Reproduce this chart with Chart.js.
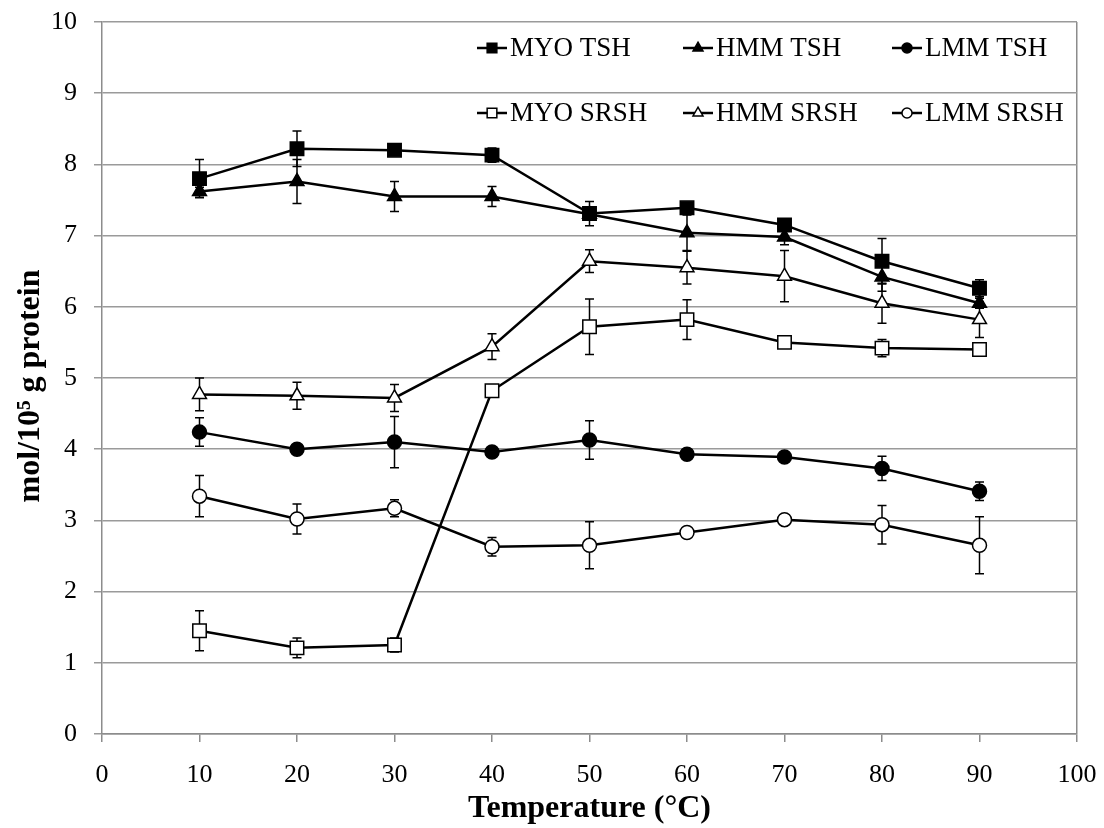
<!DOCTYPE html>
<html><head><meta charset="utf-8">
<script src="https://cdn.jsdelivr.net/npm/chart.js@4.4.1/dist/chart.umd.min.js"></script>
<style>html,body{margin:0;padding:0;background:#fff}#wrap{width:1104px;height:828px;position:relative}</style>
</head><body><div id="wrap"><canvas id="c"></canvas></div>
<script>
// ---- data ----
const temperatures = [10, 20, 30, 40, 50, 60, 70, 80, 90];
const xTickValues = [0, 10, 20, 30, 40, 50, 60, 70, 80, 90, 100];
const yTickValues = [0, 1, 2, 3, 4, 5, 6, 7, 8, 9, 10];

const myoTSH     = [7.80, 8.22, 8.20, 8.13, 7.31, 7.39, 7.15, 6.64, 6.26];
const myoTSHErr  = [0.27, 0.25, 0.04, 0.10, 0.17, 0.04, 0.05, 0.32, 0.12];
const hmmTSH     = [7.62, 7.76, 7.55, 7.55, 7.30, 7.04, 6.98, 6.42, 6.05];
const hmmTSHErr  = [0.06, 0.31, 0.21, 0.14, 0.05, 0.25, 0.11, 0.20, 0.07];
const lmmTSH     = [4.24, 4.00, 4.10, 3.96, 4.13, 3.93, 3.89, 3.73, 3.41];
const lmmTSHErr  = [0.20, 0.03, 0.36, 0.03, 0.27, 0.03, 0.05, 0.17, 0.13];
const myoSRSH    = [1.45, 1.21, 1.25, 4.82, 5.72, 5.82, 5.50, 5.42, 5.40];
const myoSRSHErr = [0.28, 0.14, 0.10, 0.08, 0.39, 0.28, 0.05, 0.12, 0.03];
const hmmSRSH    = [4.77, 4.75, 4.72, 5.44, 6.64, 6.55, 6.43, 6.05, 5.82];
const hmmSRSHErr = [0.23, 0.19, 0.19, 0.18, 0.16, 0.23, 0.36, 0.28, 0.25];
const lmmSRSH    = [3.34, 3.02, 3.17, 2.63, 2.65, 2.83, 3.01, 2.94, 2.65];
const lmmSRSHErr = [0.29, 0.21, 0.12, 0.13, 0.33, 0.07, 0.03, 0.27, 0.40];

const seriesNames = ['MYO TSH', 'HMM TSH', 'LMM TSH', 'MYO SRSH', 'HMM SRSH', 'LMM SRSH'];

// ---- chart ----
function pts(vals) { return temperatures.map((t, i) => ({ x: t, y: vals[i] })); }
const styles = [
  { ps: 'rect', r: 9.5, fill: '#000' },
  { ps: 'triangle', r: 8, fill: '#000' },
  { ps: 'circle', r: 7, fill: '#000' },
  { ps: 'rect', r: 9.5, fill: '#fff' },
  { ps: 'triangle', r: 8, fill: '#fff' },
  { ps: 'circle', r: 7, fill: '#fff' }
];
const values = [myoTSH, hmmTSH, lmmTSH, myoSRSH, hmmSRSH, lmmSRSH];
const errors = [myoTSHErr, hmmTSHErr, lmmTSHErr, myoSRSHErr, hmmSRSHErr, lmmSRSHErr];

const datasets = values.map((v, i) => ({
  label: seriesNames[i],
  data: pts(v),
  errors: errors[i],
  borderColor: '#000',
  borderWidth: 2.5,
  pointStyle: styles[i].ps,
  pointRadius: styles[i].r,
  pointBackgroundColor: styles[i].fill,
  pointBorderColor: '#000',
  pointBorderWidth: 1.5,
  tension: 0,
  fill: false
}));

const errorBars = {
  id: 'errorBars',
  beforeDatasetsDraw(chart) {
    const ctx = chart.ctx, xs = chart.scales.x, ys = chart.scales.y;
    ctx.save();
    ctx.strokeStyle = '#000';
    ctx.lineWidth = 1.5;
    chart.data.datasets.forEach(ds => {
      ds.data.forEach((p, i) => {
        const e = ds.errors[i];
        const px = xs.getPixelForValue(p.x);
        const yt = ys.getPixelForValue(p.y + e), yb = ys.getPixelForValue(p.y - e);
        ctx.beginPath();
        ctx.moveTo(px, yt); ctx.lineTo(px, yb);
        ctx.moveTo(px - 4.5, yt); ctx.lineTo(px + 4.5, yt);
        ctx.moveTo(px - 4.5, yb); ctx.lineTo(px + 4.5, yb);
        ctx.stroke();
      });
    });
    ctx.restore();
  }
};

const customLegend = {
  id: 'customLegend',
  afterDraw(chart) {
    const ctx = chart.ctx;
    const cols = [492, 698, 907];
    const rows = [48, 113];
    ctx.save();
    ctx.font = '27px "Liberation Serif", "Times New Roman", serif';
    ctx.textBaseline = 'middle';
    ctx.fillStyle = '#000';
    chart.data.datasets.forEach((ds, i) => {
      const cx = cols[i % 3], cy = rows[Math.floor(i / 3)];
      ctx.strokeStyle = '#000';
      ctx.lineWidth = 2.5;
      ctx.beginPath(); ctx.moveTo(cx - 15, cy); ctx.lineTo(cx + 15, cy); ctx.stroke();
      ctx.fillStyle = styles[i].fill;
      ctx.lineWidth = 1.5;
      Chart.helpers.drawPoint(ctx, { pointStyle: styles[i].ps, radius: styles[i].r * 0.72, rotation: 0, borderWidth: 1.5 }, cx, cy);
      ctx.fillStyle = '#000';
      ctx.fillText(ds.label, cx + 18, cy + 1);
    });
    ctx.restore();
  }
};

const tickFont = { family: '"Liberation Serif", "Times New Roman", serif', size: 26 };
const titleFont = { family: '"Liberation Serif", "Times New Roman", serif', size: 32, weight: 'bold', lineHeight: 1.2 };

new Chart(document.getElementById('c'), {
  type: 'line',
  data: { datasets },
  options: {
    responsive: true,
    maintainAspectRatio: false,
    animation: false,
    layout: { padding: { left: 0, top: 22, right: 27, bottom: 0 } },
    plugins: { legend: { display: false }, tooltip: { enabled: false } },
    scales: {
      x: {
        type: 'linear', min: 0, max: 100,
        afterBuildTicks(s) { s.ticks = xTickValues.map(v => ({ value: v })); },
        afterFit(s) { s.height = 94; s.paddingLeft = 0; s.paddingRight = 0; },
        ticks: { font: tickFont, color: '#000', padding: 18, maxRotation: 0, autoSkip: false },
        grid: {
          color: c => (c.tick && c.tick.value === 100) ? '#8c8c8c' : 'rgba(0,0,0,0)',
          tickColor: '#8c8c8c', tickLength: 8, lineWidth: 1.5
        },
        border: { display: true, color: '#8c8c8c', width: 1.5 },
        title: { display: true, text: 'Temperature (°C)', color: '#000', font: titleFont, padding: { top: -6, bottom: 0 } }
      },
      y: {
        min: 0, max: 10,
        afterBuildTicks(s) { s.ticks = yTickValues.map(v => ({ value: v })); },
        afterFit(s) { s.width = 102; s.paddingTop = 0; s.paddingBottom = 0; },
        ticks: { font: tickFont, color: '#000', padding: 17 },
        grid: { color: '#9a9a9a', tickColor: '#9a9a9a', tickLength: 8, lineWidth: 1.5 },
        border: { display: true, color: '#8c8c8c', width: 1.5 },
        title: { display: true, text: 'mol/10⁵ g protein  ', color: '#000', font: titleFont, padding: { top: 12, bottom: 0 } }
      }
    }
  },
  plugins: [errorBars, customLegend]
});
</script>
</body></html>
